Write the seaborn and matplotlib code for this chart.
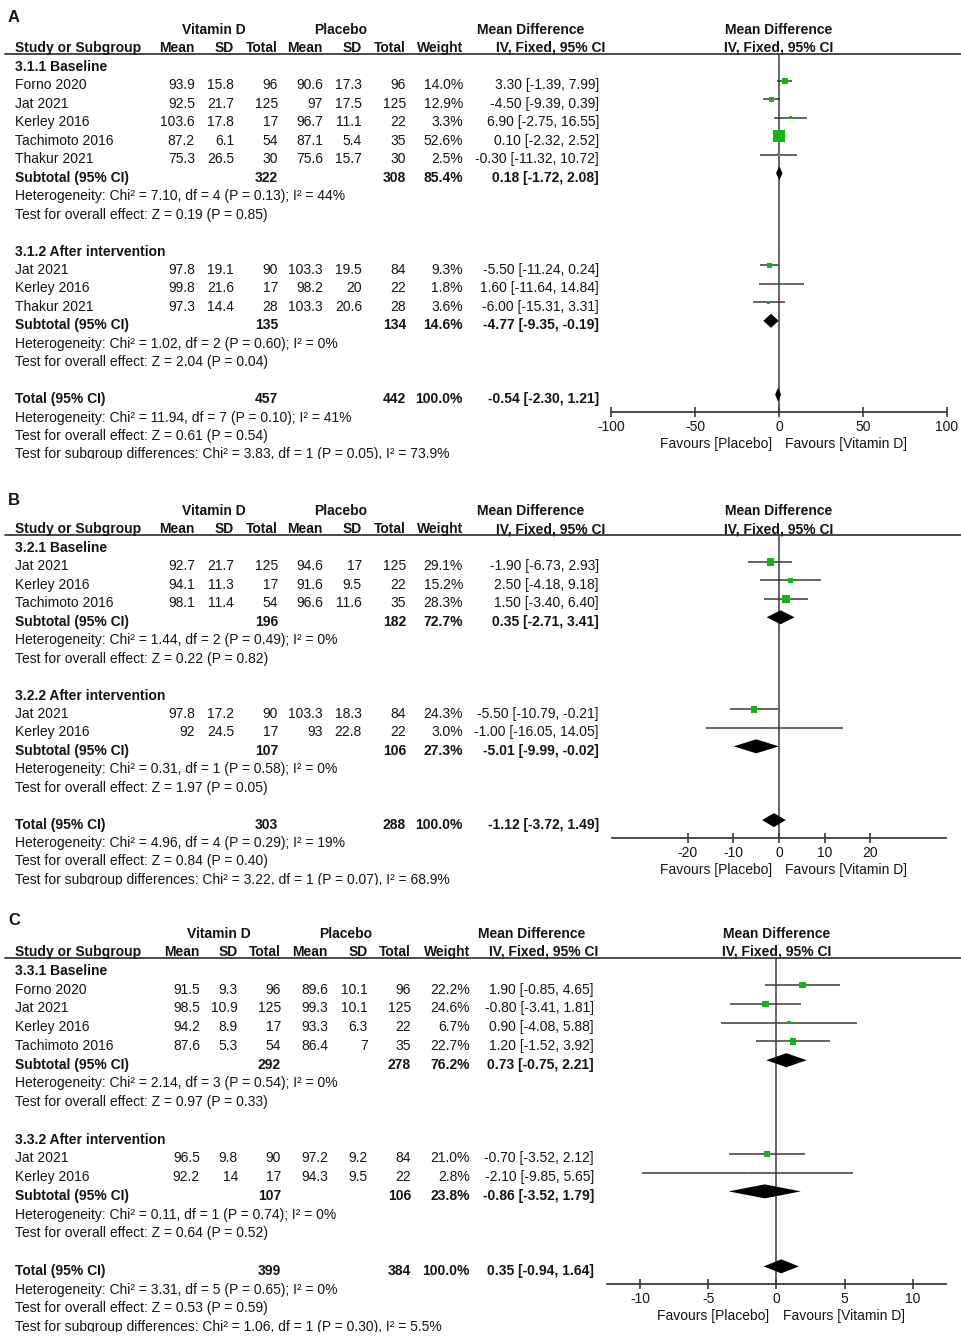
"""
Vitamin D vs placebo forest plots (panels A-C), RevMan style.
"""

import numpy as np
import pandas as pd
import matplotlib.pyplot as plt
import seaborn as sns

# ── Style ────────────────────────────────────────────────────────────────────
sns.set_theme(style="white")
plt.rcParams["font.family"] = ["Liberation Sans", "DejaVu Sans"]
plt.rcParams["axes.unicode_minus"] = False

W, H = 962, 1339
FS = 10
BASE = 5          # px from row centre to text baseline
INK = "#141414"
LINE = "#3a3a3a"
GREEN = "#14B414"

# ── Panel A data ─────────────────────────────────────────────────────────────
A_groups = ["3.1.1 Baseline", "3.1.2 After intervention"]
A_studies = ["Forno 2020", "Jat 2021", "Kerley 2016", "Tachimoto 2016", "Thakur 2021",
             "Jat 2021", "Kerley 2016", "Thakur 2021"]
A_sub = [0, 0, 0, 0, 0, 1, 1, 1]
A_vd_mean = [93.9, 92.5, 103.6, 87.2, 75.3, 97.8, 99.8, 97.3]
A_vd_sd = [15.8, 21.7, 17.8, 6.1, 26.5, 19.1, 21.6, 14.4]
A_vd_n = [96, 125, 17, 54, 30, 90, 17, 28]
A_pl_mean = [90.6, 97, 96.7, 87.1, 75.6, 103.3, 98.2, 103.3]
A_pl_sd = [17.3, 17.5, 11.1, 5.4, 15.7, 19.5, 20, 20.6]
A_pl_n = [96, 125, 22, 35, 30, 84, 22, 28]
A_weight = [14.0, 12.9, 3.3, 52.6, 2.5, 9.3, 1.8, 3.6]
A_md = [3.30, -4.50, 6.90, 0.10, -0.30, -5.50, 1.60, -6.00]
A_lo = [-1.39, -9.39, -2.75, -2.32, -11.32, -11.24, -11.64, -15.31]
A_hi = [7.99, 0.39, 16.55, 2.52, 10.72, 0.24, 14.84, 3.31]
# subtotal 1, subtotal 2, total
A_sum_vd_n = [322, 135, 457]
A_sum_pl_n = [308, 134, 442]
A_sum_weight = [85.4, 14.6, 100.0]
A_sum_md = [0.18, -4.77, -0.54]
A_sum_lo = [-1.72, -9.35, -2.30]
A_sum_hi = [2.08, -0.19, 1.21]
A_het = ["Chi² = 7.10, df = 4 (P = 0.13); I² = 44%",
         "Chi² = 1.02, df = 2 (P = 0.60); I² = 0%",
         "Chi² = 11.94, df = 7 (P = 0.10); I² = 41%"]
A_z = ["Z = 0.19 (P = 0.85)", "Z = 2.04 (P = 0.04)", "Z = 0.61 (P = 0.54)"]
A_diff = "Chi² = 3.83, df = 1 (P = 0.05), I² = 73.9%"
A_ticks = [-100, -50, 0, 50, 100]

# ── Panel B data ─────────────────────────────────────────────────────────────
B_groups = ["3.2.1 Baseline", "3.2.2 After intervention"]
B_studies = ["Jat 2021", "Kerley 2016", "Tachimoto 2016", "Jat 2021", "Kerley 2016"]
B_sub = [0, 0, 0, 1, 1]
B_vd_mean = [92.7, 94.1, 98.1, 97.8, 92]
B_vd_sd = [21.7, 11.3, 11.4, 17.2, 24.5]
B_vd_n = [125, 17, 54, 90, 17]
B_pl_mean = [94.6, 91.6, 96.6, 103.3, 93]
B_pl_sd = [17, 9.5, 11.6, 18.3, 22.8]
B_pl_n = [125, 22, 35, 84, 22]
B_weight = [29.1, 15.2, 28.3, 24.3, 3.0]
B_md = [-1.90, 2.50, 1.50, -5.50, -1.00]
B_lo = [-6.73, -4.18, -3.40, -10.79, -16.05]
B_hi = [2.93, 9.18, 6.40, -0.21, 14.05]
B_sum_vd_n = [196, 107, 303]
B_sum_pl_n = [182, 106, 288]
B_sum_weight = [72.7, 27.3, 100.0]
B_sum_md = [0.35, -5.01, -1.12]
B_sum_lo = [-2.71, -9.99, -3.72]
B_sum_hi = [3.41, -0.02, 1.49]
B_het = ["Chi² = 1.44, df = 2 (P = 0.49); I² = 0%",
         "Chi² = 0.31, df = 1 (P = 0.58); I² = 0%",
         "Chi² = 4.96, df = 4 (P = 0.29); I² = 19%"]
B_z = ["Z = 0.22 (P = 0.82)", "Z = 1.97 (P = 0.05)", "Z = 0.84 (P = 0.40)"]
B_diff = "Chi² = 3.22, df = 1 (P = 0.07), I² = 68.9%"
B_ticks = [-20, -10, 0, 10, 20]

# ── Panel C data ─────────────────────────────────────────────────────────────
C_groups = ["3.3.1 Baseline", "3.3.2 After intervention"]
C_studies = ["Forno 2020", "Jat 2021", "Kerley 2016", "Tachimoto 2016",
             "Jat 2021", "Kerley 2016"]
C_sub = [0, 0, 0, 0, 1, 1]
C_vd_mean = [91.5, 98.5, 94.2, 87.6, 96.5, 92.2]
C_vd_sd = [9.3, 10.9, 8.9, 5.3, 9.8, 14]
C_vd_n = [96, 125, 17, 54, 90, 17]
C_pl_mean = [89.6, 99.3, 93.3, 86.4, 97.2, 94.3]
C_pl_sd = [10.1, 10.1, 6.3, 7, 9.2, 9.5]
C_pl_n = [96, 125, 22, 35, 84, 22]
C_weight = [22.2, 24.6, 6.7, 22.7, 21.0, 2.8]
C_md = [1.90, -0.80, 0.90, 1.20, -0.70, -2.10]
C_lo = [-0.85, -3.41, -4.08, -1.52, -3.52, -9.85]
C_hi = [4.65, 1.81, 5.88, 3.92, 2.12, 5.65]
C_sum_vd_n = [292, 107, 399]
C_sum_pl_n = [278, 106, 384]
C_sum_weight = [76.2, 23.8, 100.0]
C_sum_md = [0.73, -0.86, 0.35]
C_sum_lo = [-0.75, -3.52, -0.94]
C_sum_hi = [2.21, 1.79, 1.64]
C_het = ["Chi² = 2.14, df = 3 (P = 0.54); I² = 0%",
         "Chi² = 0.11, df = 1 (P = 0.74); I² = 0%",
         "Chi² = 3.31, df = 5 (P = 0.65); I² = 0%"]
C_z = ["Z = 0.97 (P = 0.33)", "Z = 0.64 (P = 0.52)", "Z = 0.53 (P = 0.59)"]
C_diff = "Chi² = 1.06, df = 1 (P = 0.30), I² = 5.5%"
C_ticks = [-10, -5, 0, 5, 10]


def make_panel(prefix, g):
    studies = pd.DataFrame({
        "study": g[prefix + "_studies"], "sub": g[prefix + "_sub"],
        "vd_mean": g[prefix + "_vd_mean"], "vd_sd": g[prefix + "_vd_sd"],
        "vd_n": g[prefix + "_vd_n"], "pl_mean": g[prefix + "_pl_mean"],
        "pl_sd": g[prefix + "_pl_sd"], "pl_n": g[prefix + "_pl_n"],
        "weight": g[prefix + "_weight"], "md": g[prefix + "_md"],
        "lo": g[prefix + "_lo"], "hi": g[prefix + "_hi"],
    })
    summary = pd.DataFrame({
        "vd_n": g[prefix + "_sum_vd_n"], "pl_n": g[prefix + "_sum_pl_n"],
        "weight": g[prefix + "_sum_weight"], "md": g[prefix + "_sum_md"],
        "lo": g[prefix + "_sum_lo"], "hi": g[prefix + "_sum_hi"],
        "het": g[prefix + "_het"], "z": g[prefix + "_z"],
    })
    return dict(letter=prefix, groups=g[prefix + "_groups"], studies=studies,
                summary=summary, diff=g[prefix + "_diff"], ticks=g[prefix + "_ticks"])


G = globals()
PANELS = [make_panel(p, G) for p in ["A", "B", "C"]]

# layout (pixels)
LAYOUT = [
    dict(clip=(0, 458.5), y_letter=17, y_h1=29, y_h2=47, y_line=54, y0=66, step=18.45,
         y_axis=412, fx=(611, 947), xlim=(-100, 100), sq=1.6,
         cols=[195, 234, 278, 323, 362, 406, 463, 599], ci_hdr=605,
         vd_c=214, pl_c=341, md_c=531),
    dict(clip=(486, 884.5), y_letter=500, y_h1=510, y_h2=528, y_line=535, y0=547, step=18.44,
         y_axis=838, fx=(612, 946), xlim=(-36.7, 36.7), sq=1.4,
         cols=[195, 234, 278, 323, 362, 406, 463, 599], ci_hdr=605,
         vd_c=214, pl_c=341, md_c=531),
    dict(clip=(906, 1331.5), y_letter=920, y_h1=933, y_h2=951, y_line=958, y0=970, step=18.74,
         y_axis=1284, fx=(607, 946), xlim=(-12.45, 12.45), sq=1.35,
         cols=[200, 238, 281, 328, 368, 411, 470, 594], ci_hdr=598,
         vd_c=219, pl_c=346, md_c=532),
]


def ci_str(md, lo, hi):
    return f"{md:.2f} [{lo:.2f}, {hi:.2f}]"


fig = plt.figure(figsize=(W / 100, H / 100), dpi=100)
fig.patch.set_facecolor("white")

for P, L in zip(PANELS, LAYOUT):
    top, bot = L["clip"]
    ax = fig.add_axes([0, 1 - bot / H, 1, (bot - top) / H])
    ax.set_xlim(0, W)
    ax.set_ylim(bot, top)
    ax.axis("off")

    def txt(x, y, s, ha="left", bold=False, size=FS):
        ax.text(x, y + BASE, s, ha=ha, va="baseline", fontsize=size, color=INK,
                fontweight="bold" if bold else "normal", clip_on=True)

    cols = L["cols"]
    # headers
    txt(8, L["y_letter"], P["letter"], bold=True, size=12)
    txt(L["vd_c"], L["y_h1"], "Vitamin D", ha="center", bold=True)
    txt(L["pl_c"], L["y_h1"], "Placebo", ha="center", bold=True)
    txt(L["md_c"], L["y_h1"], "Mean Difference", ha="center", bold=True)
    txt(15, L["y_h2"], "Study or Subgroup", bold=True)
    for x, s in zip(cols[:7], ["Mean", "SD", "Total", "Mean", "SD", "Total", "Weight"]):
        txt(x, L["y_h2"], s, ha="right", bold=True)
    txt(L["ci_hdr"], L["y_h2"], "IV, Fixed, 95% CI", ha="right", bold=True)
    ax.plot([5, W], [L["y_line"], L["y_line"]], color=LINE, lw=1.3)

    # row layout
    st, sm = P["studies"], P["summary"]
    rows = []
    for gi in range(2):
        rows.append(("group", gi))
        rows += [("study", i) for i in st.index[st["sub"] == gi]]
        rows += [("sum", gi), ("het", gi), ("z", gi), ("blank", None)]
    rows += [("sum", 2), ("het", 2), ("z", 2), ("diff", None)]
    ypos = {}
    for r, (kind, idx) in enumerate(rows):
        y = L["y0"] + r * L["step"]
        ypos[(kind, idx)] = y
        if kind == "group":
            txt(15, y, P["groups"][idx], bold=True)
        elif kind == "study":
            s = st.loc[idx]
            txt(15, y, s["study"])
            vals = [f"{s.vd_mean:g}", f"{s.vd_sd:g}", f"{int(s.vd_n)}",
                    f"{s.pl_mean:g}", f"{s.pl_sd:g}", f"{int(s.pl_n)}",
                    f"{s.weight:.1f}%", ci_str(s.md, s.lo, s.hi)]
            for x, v in zip(cols, vals):
                txt(x, y, v, ha="right")
        elif kind == "sum":
            s = sm.loc[idx]
            txt(15, y, "Total (95% CI)" if idx == 2 else "Subtotal (95% CI)", bold=True)
            txt(cols[2], y, f"{int(s.vd_n)}", ha="right", bold=True)
            txt(cols[5], y, f"{int(s.pl_n)}", ha="right", bold=True)
            txt(cols[6], y, f"{s.weight:.1f}%", ha="right", bold=True)
            txt(cols[7], y, ci_str(s.md, s.lo, s.hi), ha="right", bold=True)
        elif kind == "het":
            txt(15, y, "Heterogeneity: " + sm.loc[idx, "het"])
        elif kind == "z":
            txt(15, y, "Test for overall effect: " + sm.loc[idx, "z"])
        elif kind == "diff":
            txt(15, y, "Test for subgroup differences: " + P["diff"])

    # forest axes: x = mean difference, y = pixel rows
    x0, x1 = L["fx"]
    fax = fig.add_axes([x0 / W, 1 - L["y_axis"] / H, (x1 - x0) / W,
                        (L["y_axis"] - L["y_line"]) / H])
    fax.patch.set_alpha(0)

    d = st.copy()
    d["y"] = [ypos[("study", i)] - 3.5 for i in d.index]
    d["s"] = (L["sq"] * np.sqrt(d["weight"]) * 0.72) ** 2
    fax.axvline(0, color=LINE, lw=1.1, zorder=1)
    fax.hlines(d["y"], d["lo"], d["hi"], color=LINE, lw=1.1, zorder=2)
    sns.scatterplot(data=d, x="md", y="y", marker="s", s=d["s"].to_numpy(),
                    color=GREEN, linewidth=0, legend=False, ax=fax, zorder=3)
    for k in range(3):
        s = sm.loc[k]
        yc = ypos[("sum", k)] - 3.5
        fax.fill([s.lo, s.md, s.hi, s.md], [yc, yc - 7, yc, yc + 7],
                 color="black", lw=0, zorder=3)

    fax.set_xlim(L["xlim"])
    fax.set_ylim(L["y_axis"], L["y_line"])
    fax.set_xlabel("")
    fax.set_ylabel("")
    for sp in ["top", "left", "right"]:
        fax.spines[sp].set_visible(False)
    fax.spines["bottom"].set_color(LINE)
    fax.spines["bottom"].set_linewidth(1.3)
    fax.set_yticks([])
    fax.set_xticks(P["ticks"])
    fax.set_xticklabels([str(t) for t in P["ticks"]])
    fax.tick_params(axis="x", bottom=True, direction="inout", length=7, width=1.2,
                    color=LINE, labelsize=FS, labelcolor=INK, pad=2)

    # right-hand headers and favour labels
    fax.text(0, L["y_h1"] + BASE, "Mean Difference", ha="center", va="baseline",
             fontsize=FS, fontweight="bold", color=INK)
    fax.text(0, L["y_h2"] + BASE, "IV, Fixed, 95% CI", ha="center", va="baseline",
             fontsize=FS, fontweight="bold", color=INK)
    yf = L["y_axis"] + 31 + BASE
    fax.annotate("Favours [Placebo]", xy=(0, yf), xytext=(-5, 0),
                 textcoords="offset points", ha="right", va="baseline",
                 fontsize=FS, color=INK, annotation_clip=False)
    fax.annotate("Favours [Vitamin D]", xy=(0, yf), xytext=(4.5, 0),
                 textcoords="offset points", ha="left", va="baseline",
                 fontsize=FS, color=INK, annotation_clip=False)

fig.savefig("out.png", dpi=100)
